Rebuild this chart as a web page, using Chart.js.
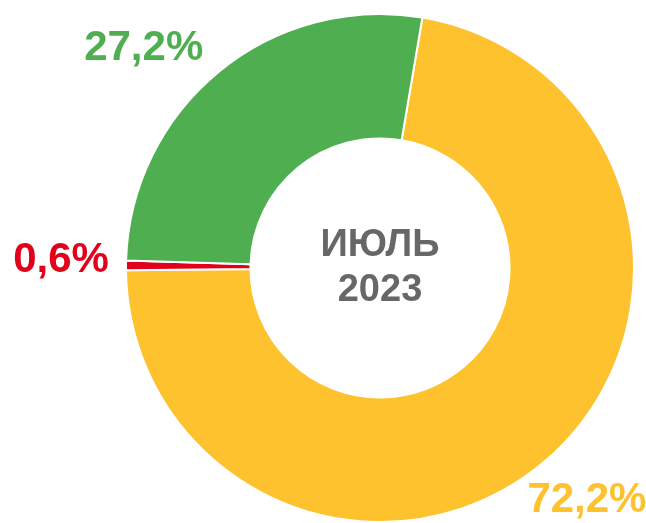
<!DOCTYPE html>
<html>
<head>
<meta charset="utf-8">
<script src="https://cdn.jsdelivr.net/npm/chart.js@4/dist/chart.umd.min.js"></script>
<style>
  html, body { margin: 0; padding: 0; background: #fff; }
  #wrap { width: 646px; height: 523px; }
</style>
</head>
<body>
<div id="wrap"><canvas id="pie" width="646" height="523"></canvas></div>
<script>
'use strict'

const categories = ['Жёлтый', 'Красный', 'Зелёный'];
const values = [72.2, 0.6, 27.2];
const valueLabels = ['72,2%', '0,6%', '27,2%'];
const colors = ['#FEC22E', '#E3001B', '#4EAE50'];
const centerLines = ['ИЮЛЬ', '2023'];
// small nudges of the outside labels, px
const labelNudge = [[0, -10], [0, -4], [-34, 27]];

const outsideLabels = {
  id: 'outsideLabels',
  afterDatasetsDraw(chart) {
    const ctx = chart.ctx;
    const meta = chart.getDatasetMeta(0);
    ctx.save();
    ctx.font = 'bold 42px "Liberation Sans", Arial, sans-serif';
    ctx.textAlign = 'center';
    ctx.textBaseline = 'middle';
    meta.data.forEach((arc, i) => {
      const p = arc.getProps(['x', 'y', 'startAngle', 'endAngle', 'outerRadius'], true);
      const mid = (p.startAngle + p.endAngle) / 2;
      const r = p.outerRadius + 65;
      const x = p.x + Math.cos(mid) * r + labelNudge[i][0];
      const y = p.y + Math.sin(mid) * r + labelNudge[i][1];
      ctx.fillStyle = colors[i];
      ctx.fillText(valueLabels[i], x, y);
    });
    // center caption
    const c = meta.data[0];
    ctx.fillStyle = '#676767';
    ctx.font = 'bold 38px "Liberation Sans", Arial, sans-serif';
    ctx.fillText(centerLines[0], c.x, c.y - 22);
    ctx.fillText(centerLines[1], c.x, c.y + 23);
    ctx.restore();
  }
};

const ctx = document.getElementById('pie').getContext('2d');
new Chart(ctx, {
  type: 'doughnut',
  data: {
    labels: categories,
    datasets: [{
      data: values,
      backgroundColor: colors,
      borderColor: '#ffffff',
      borderWidth: 2,
    }]
  },
  options: {
    responsive: false,
    animation: false,
    rotation: 9.6,
    cutout: '51%',
    layout: {
      padding: { left: 125, right: 11, top: 13, bottom: 0 }
    },
    plugins: {
      legend: { display: false },
      tooltip: { enabled: false },
    },
  },
  plugins: [outsideLabels],
});
</script>
</body>
</html>
